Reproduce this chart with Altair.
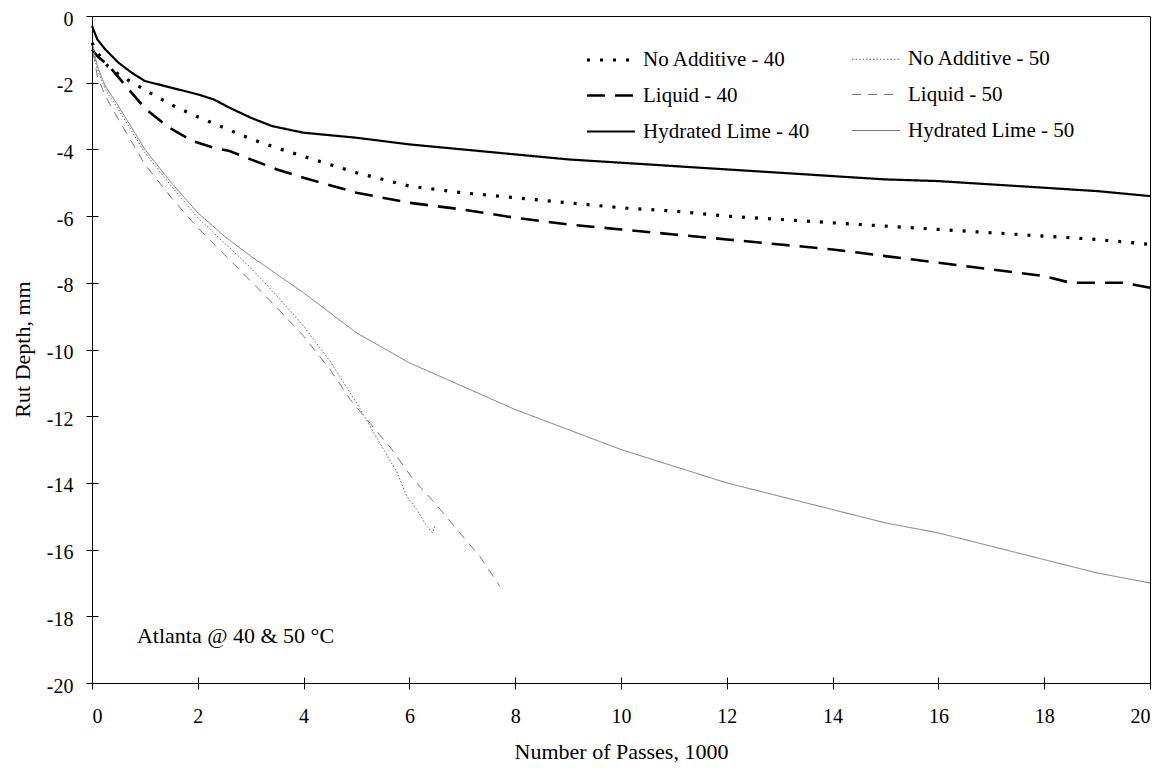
import altair as alt
import pandas as pd

# legend order: column-first fill -> first column 40 °C, second column 50 °C
series_names = ["No Additive - 40", "Liquid - 40", "Hydrated Lime - 40",
                "No Additive - 50", "Liquid - 50", "Hydrated Lime - 50"]

hl40_x = [0, 0.1, 0.25, 0.5, 0.75, 1.0, 1.5, 2.0, 2.3, 2.6, 3.0, 3.4, 4.0, 5, 6, 7, 8, 9, 10, 11, 12, 13, 14, 15, 16, 17, 18, 19, 20]
hl40_y = [-0.3, -0.7, -1.0, -1.4, -1.7, -1.95, -2.15, -2.35, -2.5, -2.75, -3.05, -3.3, -3.5, -3.65, -3.85, -4.0, -4.15, -4.3, -4.4, -4.5, -4.6, -4.7, -4.8, -4.9, -4.95, -5.05, -5.15, -5.25, -5.4]

na40_x = [0, 0.1, 0.3, 0.5, 0.76, 1.2, 1.55, 1.96, 2.34, 2.72, 3.03, 3.48, 3.88, 5, 6, 7, 8, 9, 10, 11, 12, 13, 14, 15, 16, 17, 18, 19, 20]
na40_y = [-0.8, -1.1, -1.5, -1.75, -2.0, -2.4, -2.7, -3.0, -3.25, -3.5, -3.7, -3.95, -4.15, -4.7, -5.1, -5.3, -5.45, -5.6, -5.75, -5.85, -6.0, -6.1, -6.2, -6.3, -6.4, -6.5, -6.6, -6.7, -6.85]

lq40_x = [0, 0.1, 0.32, 0.64, 1.02, 1.46, 1.9, 2.3, 2.6, 3.0, 3.5, 4.0, 5, 6, 7, 8, 9, 10, 11, 12, 13, 14, 15, 16, 17, 18, 18.5, 19.5, 20]
lq40_y = [-1.0, -1.2, -1.5, -2.1, -2.8, -3.35, -3.75, -3.95, -4.05, -4.3, -4.6, -4.85, -5.3, -5.6, -5.8, -6.05, -6.25, -6.4, -6.55, -6.7, -6.85, -7.0, -7.2, -7.4, -7.6, -7.8, -8.0, -8.0, -8.15]

na50_x = [0.02, 0.1, 0.25, 0.5, 1, 1.5, 2, 2.5, 3, 3.5, 4, 4.5, 5, 5.44, 5.77, 5.95, 6.14, 6.33, 6.44, 6.48]
na50_y = [-1.0, -1.6, -2.2, -2.8, -4.1, -5.1, -6.05, -6.8, -7.55, -8.4, -9.3, -10.35, -11.6, -12.8, -13.7, -14.4, -14.8, -15.3, -15.5, -15.3]

lq50_x = [0.02, 0.1, 0.25, 0.5, 1, 1.5, 2, 2.5, 3, 3.5, 4, 4.5, 4.88, 5.67, 6.05, 6.48, 6.9, 7.33, 7.71]
lq50_y = [-1.1, -1.8, -2.4, -3.1, -4.45, -5.45, -6.35, -7.15, -7.95, -8.75, -9.6, -10.6, -11.5, -13.0, -13.85, -14.6, -15.4, -16.2, -17.1]

hl50_x = [0.02, 0.1, 0.25, 0.5, 1, 1.5, 2, 2.5, 3, 4, 5, 6, 7, 8, 9, 10, 11, 12, 13, 14, 15, 16, 17, 18, 19, 20]
hl50_y = [-0.9, -1.5, -2.1, -2.7, -4.0, -5.0, -5.9, -6.6, -7.2, -8.3, -9.5, -10.4, -11.1, -11.8, -12.4, -13.0, -13.5, -14.0, -14.4, -14.8, -15.2, -15.5, -15.9, -16.3, -16.7, -17.0]

x_ticks = list(range(0, 21, 2))
y_ticks = list(range(-20, 1, 2))

note_x = [0.85]
note_y = [-18.6]
note_text = ["Atlanta @ 40 & 50 °C"]

series_data = {
    "No Additive - 40": (na40_x, na40_y),
    "No Additive - 50": (na50_x, na50_y),
    "Liquid - 40": (lq40_x, lq40_y),
    "Liquid - 50": (lq50_x, lq50_y),
    "Hydrated Lime - 40": (hl40_x, hl40_y),
    "Hydrated Lime - 50": (hl50_x, hl50_y),
}

rows = []
for name in series_names:
    xs, ys = series_data[name]
    for i, (a, b) in enumerate(zip(xs, ys)):
        rows.append({"series": name, "x": a, "y": b, "order": i})
df = pd.DataFrame(rows)

colors = ["#000000", "#000000", "#000000", "#666666", "#777777", "#777777"]
dashes = [[3, 10], [18, 10], [1, 0], [1.5, 2], [9, 7], [1, 0]]
widths = [3.2, 2.6, 2.2, 1.0, 1.0, 1.0]

FONT = "Liberation Serif"


def make_legend():
    return alt.Legend(title=None, orient="none", legendX=493, legendY=18,
                      columns=2, columnPadding=40, rowPadding=0,
                      symbolType="stroke", symbolSize=2304,
                      labelFont=FONT, labelFontSize=21, labelColor="black",
                      labelOffset=6, labelLimit=0)


# axes: domain lines come from the view frame; ticks cross the frame (offset inward)
x_enc = alt.X("x:Q", scale=alt.Scale(domain=[0, 20], nice=False, zero=False),
              axis=alt.Axis(values=x_ticks, title="Number of Passes, 1000", grid=False,
                            domain=False, offset=-6, tickSize=12,
                            labelExpr="'' + datum.value", labelPadding=17,
                            titleX=529, titleY=74, titleBaseline="middle"))
y_enc = alt.Y("y:Q", scale=alt.Scale(domain=[-20, 0], nice=False, zero=False),
              axis=alt.Axis(values=y_ticks, title="Rut Depth, mm", grid=False,
                            domain=False, offset=-6, tickSize=12,
                            labelExpr="'' + datum.value", labelPadding=13, labelOffset=3,
                            titleX=-76, titleY=333, titleBaseline="middle", titleAngle=-90,
                            titleAlign="center"))

lines = alt.Chart(df).mark_line(strokeCap="butt", interpolate="linear").encode(
    x=x_enc,
    y=y_enc,
    order="order:Q",
    color=alt.Color("series:N", scale=alt.Scale(domain=series_names, range=colors),
                    legend=make_legend()),
    strokeDash=alt.StrokeDash("series:N", scale=alt.Scale(domain=series_names, range=dashes),
                              legend=make_legend()),
    strokeWidth=alt.StrokeWidth("series:N",
                                scale=alt.Scale(type="ordinal", domain=series_names, range=widths),
                                legend=make_legend()),
)

note_df = pd.DataFrame({"x": note_x, "y": note_y, "t": note_text})
note = alt.Chart(note_df).mark_text(align="left", baseline="middle", font=FONT, fontSize=22,
                                    color="black").encode(x="x:Q", y="y:Q", text="t:N")

chart = alt.layer(lines, note).properties(
    width=1058, height=667,
    autosize=alt.AutoSizeParams(type="none"),
    padding={"left": 84, "top": 8, "right": 6, "bottom": 81},
).configure_view(stroke="black", strokeWidth=1).configure_axis(
    tickColor="black", labelColor="black", titleColor="black",
    labelFont=FONT, titleFont=FONT, labelFontSize=20, titleFontSize=22, titleFontWeight="normal",
)

chart.save("out.html", embed_options={"renderer": "svg", "actions": False})
